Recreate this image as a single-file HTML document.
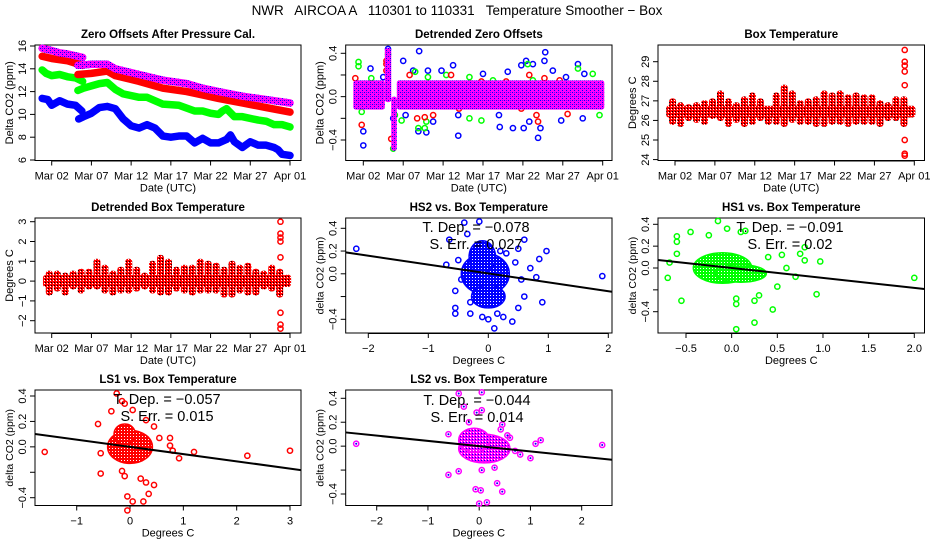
<!DOCTYPE html>
<html><head><meta charset="utf-8">
<style>
html,body{margin:0;padding:0;background:#fff;}
svg{display:block;font-family:"Liberation Sans",sans-serif;}
</style></head>
<body>
<svg id="fig" width="936" height="540" viewBox="0 0 936 540" xmlns="http://www.w3.org/2000/svg">
<defs>
<pattern id="patPurple" x="0" y="0" width="4" height="4" patternUnits="userSpaceOnUse"><rect x="0" y="0" width="4" height="4" fill="#ff00ff"/><rect x="0" y="0" width="1" height="1" fill="#0000ff"/><rect x="2" y="2" width="1" height="1" fill="#0000ff"/><rect x="2" y="0" width="1" height="1" fill="#6a00ff"/></pattern>
<pattern id="patRed" width="3" height="3" patternUnits="userSpaceOnUse"><rect width="3" height="3" fill="#ff0000"/><rect width="1" height="1" fill="#000"/><rect x="2" y="1" width="1" height="1" fill="#fff"/></pattern>
<pattern id="patBlue" width="3" height="3" patternUnits="userSpaceOnUse"><rect width="3" height="3" fill="#0000ff"/><rect x="1" y="1" width="1" height="1" fill="#fff"/></pattern>
<pattern id="patGreen" width="3" height="3" patternUnits="userSpaceOnUse"><rect width="3" height="3" fill="#00ff00"/><rect x="1" y="1" width="1" height="1" fill="#fff"/></pattern>
<pattern id="patRedBlob" width="3" height="3" patternUnits="userSpaceOnUse"><rect width="3" height="3" fill="#ff0000"/><rect x="1" y="1" width="1" height="1" fill="#fff"/></pattern>
<pattern id="patPurpleBlob" width="3" height="3" patternUnits="userSpaceOnUse"><rect width="3" height="3" fill="#ff00ff"/><rect x="1" y="1" width="1" height="1" fill="#0000ff"/><rect x="2" y="0" width="1" height="1" fill="#fff"/></pattern>
</defs>
<text x="457" y="15" font-size="13.5" text-anchor="middle" style="white-space:pre" xml:space="preserve">NWR   AIRCOA A   110301 to 110331   Temperature Smoother − Box</text>
</svg>
<script>
// ---------- data ----------
const dateTicks=[1,6,11,16,21,26,31];
const dateTickLabels=["Mar 02","Mar 07","Mar 12","Mar 17","Mar 22","Mar 27","Apr 01"];

// Panel 1: zero offsets
const purpleDays=[-0.2,1,2,3,4.9,null,4.3,6,8,9,12,15,18,20,22,25,28,31];
const purpleVals=[15.8,15.6,15.4,15.3,15.0,null,14.3,14.4,14.4,14.0,13.5,13.0,12.7,12.3,12.0,11.6,11.3,11.0];
const redDays=[-0.2,1,3,4.9,null,4.3,6,8,9,12,15,18,20,22,25,28,31];
const redVals=[15.1,14.9,14.7,14.3,null,13.5,13.6,13.8,13.4,12.9,12.3,12.0,11.7,11.4,11.0,10.6,10.2];
const greenDays=[-0.2,0.3,1,2,3,4,4.9,null,4.3,5,6,7,8,9,10,12,13,15,17,19,20,21,22,22.5,23,24,25,27,28,29,30,31];
const greenVals=[13.9,13.6,13.4,13.5,13.3,13.2,12.9,null,12.1,12.3,12.5,12.7,12.8,12.2,11.8,11.5,11.5,10.9,10.8,10.3,10.3,10.1,10.0,10.3,10.5,9.8,9.8,9.5,9.4,9.1,9.1,8.9];
const blueDays=[-0.2,0.5,1,2,3,4,4.8,null,4.4,5,6,7,8,9,10,11,12,13,14,15,16,17,18,19,20,21,22,23,23.5,24,25,26,27,28,29,29.5,30,31];
const blueVals=[11.4,11.3,10.8,11.2,10.9,10.8,10.3,null,9.6,9.8,10.1,10.6,10.7,10.5,9.6,9.0,8.8,9.1,8.8,8.1,8.0,8.1,8.1,7.5,7.9,7.5,7.5,7.8,8.2,7.6,7.1,7.6,7.3,7.3,7.1,6.9,6.5,6.4];

// Panel 2: detrended zero offsets (dense band blocks + outliers)
const bandStart=[-0.25,3.7,4.5,5.2];
const bandEnd=[3.7,4.5,5.2,31.2];
const bandHi=[0.15,0.45,0.0,0.15];
const bandLo=[-0.12,-0.05,-0.5,-0.12];
const dzBlueDays=[1,1,1.9,3.5,4.1,4.75,6,6.3,7.25,7.9,8,8.9,9.1,9.75,10.8,12.25,12.9,12.9,16,18,18.1,19.1,19.75,20.8,21.1,21.4,21.8,22.25,22.9,23.2,23.7,23.8,24.75,25.8,26.4,27.9,28.5,28.7,30.2];
const dzBlueVals=[-0.45,-0.32,0.26,0.18,0.44,-0.2,0.33,-0.17,0.24,-0.32,0.42,-0.33,0.24,-0.23,0.24,0.29,-0.36,-0.17,0.21,-0.17,-0.28,0.23,-0.29,0.29,-0.29,0.33,-0.23,0.3,-0.38,-0.29,0.33,0.41,0.24,-0.22,0.18,0.3,-0.2,0.21,-0.05];
const dzGreenDays=[0.4,0.4,0.8,2,4.1,4.75,4.95,5.8,7.5,7.9,8.7,8.9,9.1,11.4,14.3,14.3,15.8,17.25,21.6,22.25,23.7,27.9,29.75,30.6];
const dzGreenVals=[0.32,0.28,-0.14,0.17,0.39,-0.48,-0.17,-0.22,0.23,-0.29,-0.29,-0.23,0.18,0.2,-0.2,0.18,-0.22,0.15,0.3,0.15,0.12,0.26,0.21,-0.17];
const dzRedDays=[0,0.2,0.8,3.9,3.9,3.9,4.5,6.8,7.75,8.7,9.75,12,13,14.5,15.8,18.9,20.8,21.8,22.7,22.9,23.7,25.6,26.6,27.25,29.75];
const dzRedVals=[0.17,0.1,-0.26,0.33,0.3,0.24,-0.39,0.2,-0.2,-0.19,-0.17,0.2,-0.11,0.12,0.14,0.14,-0.11,0.2,-0.17,-0.23,0.17,0.15,-0.16,0.11,-0.02];

// Panel 3: box temperature daily max/min
const boxMax=[27.0,26.8,26.7,26.8,26.9,27.0,27.4,27.0,26.8,27.1,27.3,27.0,26.6,27.3,27.7,27.4,26.9,27.0,27.1,27.4,27.3,27.4,27.2,27.3,27.2,27.2,26.9,26.8,27.1,27.1,26.6];
const boxMin=[25.9,25.8,26.1,26.0,25.9,26.2,26.1,25.8,26.0,25.8,25.9,26.1,25.9,25.9,25.8,26.0,25.9,25.9,25.8,25.8,25.9,25.9,25.8,25.9,25.9,25.9,25.8,26.1,26.1,25.8,26.3];
const boxOutDay=29.8;
const boxOutVals=[29.6,29.0,28.8,28.5,27.8,25.0,24.3,24.2];

// Panel 4: detrended box temperature
const dtMax=[0.4,0.4,0.3,0.4,0.5,0.5,1.0,0.7,0.4,0.6,1.0,0.6,0.3,0.9,1.2,1.0,0.6,0.7,0.7,1.0,0.9,0.8,0.6,0.9,0.7,0.8,0.5,0.4,0.7,0.5,0.2];
const dtMin=[-0.6,-0.4,-0.6,-0.3,-0.5,-0.3,-0.3,-0.5,-0.6,-0.5,-0.5,-0.4,-0.3,-0.5,-0.6,-0.6,-0.4,-0.5,-0.6,-0.5,-0.5,-0.5,-0.7,-0.7,-0.5,-0.6,-0.6,-0.3,-0.4,-0.7,-0.1];
const dtOutVals=[3.0,2.4,2.2,2.0,1.2,-1.6,-2.2,-2.4];

// Scatter panels
const hs2X=[-2.2,1.9,-0.7,-0.65,-0.4,0.1,0.9,0.97,0.85,0.4,-0.55,-0.55,-0.3,0.5,0.25,0.0,0.6,0.5,0.7,0.6,-0.55,-0.3,0.2,-0.15,-0.35,0.45,0.3,-0.5,0.55,0.8,-0.45,0.15,-0.1];
const hs2Y=[0.22,-0.02,0.08,0.3,0.45,-0.48,-0.25,0.2,0.13,-0.42,-0.35,-0.3,-0.35,-0.3,-0.38,-0.4,0.3,0.22,0.05,-0.2,-0.15,-0.25,0.2,0.46,0.35,0.1,0.18,0.12,-0.05,-0.03,-0.05,-0.35,-0.38];
const hs2BlobX=[-0.05,-0.1,0.0], hs2BlobY=[0.0,0.15,-0.2], hs2BlobRx=[0.4,0.22,0.28], hs2BlobRy=[0.18,0.14,0.1];
const hs2Slope=-0.078, hs2Int=0.003;

const hs1X=[2.0,-0.7,-0.55,-0.6,-0.6,-0.45,-0.15,0.05,0.25,0.45,0.93,0.97,0.8,0.8,0.75,0.55,0.5,0.3,0.25,0.05,0.05,0.15,0.1,-0.05,-0.25,0.7,0.6,-0.6,-0.68,0.4];
const hs1Y=[-0.09,-0.09,-0.3,0.29,0.24,0.33,0.43,-0.56,-0.5,-0.38,-0.24,0.06,0.07,0.19,0.13,0.12,-0.17,-0.25,-0.3,-0.33,-0.28,0.34,0.33,0.36,0.3,-0.08,0.0,0.13,0.05,0.1];
const hs1BlobX=[-0.1,0.1], hs1BlobY=[0.0,-0.05], hs1BlobRx=[0.32,0.28], hs1BlobRy=[0.14,0.08];
const hs1Slope=-0.091, hs1Int=0.0;

const ls1X=[-1.6,3.0,2.2,1.2,0.92,-0.25,-0.15,-0.1,0.05,-0.35,0.3,0.45,-0.6,-0.55,-0.15,-0.05,-0.05,0.05,0.25,0.3,0.45,0.35,0.75,0.75,0.2,-0.1,0.8,0.55,-0.55];
const ls1Y=[-0.04,-0.03,-0.07,-0.04,-0.09,0.42,0.36,0.34,0.29,0.28,0.21,0.16,0.18,-0.21,-0.19,-0.39,-0.5,-0.43,-0.43,-0.28,-0.3,-0.37,0.01,0.07,-0.25,-0.23,-0.03,0.07,-0.05];
const ls1BlobX=[0.0,-0.1], ls1BlobY=[0.0,0.1], ls1BlobRx=[0.42,0.2], ls1BlobRy=[0.13,0.08];
const ls1Slope=-0.057, ls1Int=0.0;

const ls2X=[-2.4,2.4,1.2,1.1,1.0,0.8,0.7,-0.6,-0.6,-0.4,-0.07,0.03,0.0,0.15,0.35,0.45,-0.3,-0.4,0.05,0.05,-0.05,0.45,0.42,0.6,0.55,0.05,0.3,-0.2];
const ls2Y=[0.02,0.01,0.05,0.02,-0.1,-0.07,-0.04,0.1,-0.24,-0.21,-0.36,-0.37,-0.48,-0.47,-0.31,-0.38,0.33,0.44,0.45,0.3,0.28,0.18,0.14,0.07,0.09,-0.2,-0.18,0.2];
const ls2BlobX=[0.1,-0.1], ls2BlobY=[-0.02,0.05], ls2BlobRx=[0.5,0.3], ls2BlobRy=[0.12,0.1];
const ls2Slope=-0.044, ls2Int=0.0;

// ---------- drawing ----------
const NS="http://www.w3.org/2000/svg";
const svg=document.getElementById('fig');
function mk(tag,attrs,parent){const e=document.createElementNS(NS,tag);for(const k in attrs)e.setAttribute(k,attrs[k]);(parent||svg).appendChild(e);return e;}
function lin(v1,p1,v2,p2){const k=(p2-p1)/(v2-v1);return v=>p1+(v-v1)*k;}

const cols=[[35,301],[345.7,612],[658,924.5]];
const rows=[[45,160.5],[218,333],[390,505.5]];
let clipN=0;

function panel(c,r,name,title,sx,sy,xt,xl,yt,yl,xtitle,ytitle,ytitleSize){
  const [x0,x1]=cols[c],[y0,y1]=rows[r];
  const g=mk('g',{});
  
  
  const box=mk('rect',{x:x0,y:y0,width:x1-x0,height:y1-y0,fill:'none',stroke:'#000','stroke-width':1},g);
  
  
  const t=mk('text',{x:(x0+x1)/2,y:y0-7,'font-size':11.5,'font-weight':'bold','text-anchor':'middle'},g);
  t.textContent=title;
  
  
  xt.forEach((v,i)=>{
    const x=sx(v);
    const tk=mk('line',{x1:x,x2:x,y1:y1,y2:y1+5,stroke:'#000'},g);
    
    
    const lb=mk('text',{x:x,y:y1+19,'font-size':11,'text-anchor':'middle'},g);
    lb.textContent=xl[i];
    
    
  });
  const ax=mk('line',{x1:sx(xt[0]),x2:sx(xt[xt.length-1]),y1:y1+0.5,y2:y1+0.5,stroke:'#000'},g);
  
  
  yt.forEach((v,i)=>{
    const y=sy(v);
    const tk=mk('line',{x1:x0-5,x2:x0,y1:y,y2:y,stroke:'#000'},g);
    
    
    if(yl[i]!==''){
      const lb=mk('text',{x:0,y:0,'font-size':11,'text-anchor':'middle',transform:`translate(${x0-9},${y}) rotate(-90)`},g);
      lb.textContent=yl[i];
      
      
    }
  });
  const xtl=mk('text',{x:(x0+x1)/2,y:y1+31,'font-size':11,'text-anchor':'middle'},g);
  xtl.textContent=xtitle;
  
  
  const ytl=mk('text',{x:0,y:0,'font-size':ytitleSize,'text-anchor':'middle',transform:`translate(${x0-22},${(y0+y1)/2}) rotate(-90)`},g);
  ytl.textContent=ytitle;
  
  
  clipN++;
  const cp=mk('clipPath',{id:'clip'+clipN},g);
  mk('rect',{x:x0,y:y0,width:x1-x0,height:y1-y0},cp);
  const marks=mk('g',{},g);
  
  
  return {g:marks,clip:'url(#clip'+clipN+')',x0,x1,y0,y1};
}

function circ(parent,x,y,color,name){
  const c=mk('circle',{cx:x,cy:y,r:2.6,fill:'none',stroke:color,'stroke-width':1.5},parent);
  
  
  return c;
}

function series(p,sx,sy,days,vals,paint,name){
  let seg=[];
  const flush=()=>{ if(seg.length){const pl=mk('polyline',{points:seg.join(' '),fill:'none',stroke:paint,'stroke-width':7.5,'stroke-linecap':'round','stroke-linejoin':'round'},p.g);
    
    
    } seg=[]; };
  days.forEach((d,i)=>{ if(d===null||vals[i]===null){flush();} else seg.push(sx(d)+','+sy(vals[i])); });
  flush();
}

// Panel 1
{
  const sx=lin(1,51.7,31,290), sy=lin(16,46,6,160);
  const p=panel(0,0,'zero-offsets-panel','Zero Offsets After Pressure Cal.',sx,sy,dateTicks,dateTickLabels,[6,8,10,12,14,16],['6','8','10','12','14','16'],'Date (UTC)','Delta CO2 (ppm)',11);
  series(p,sx,sy,blueDays,blueVals,'#0000ff','series-blue');
  series(p,sx,sy,greenDays,greenVals,'#00ff00','series-green');
  series(p,sx,sy,redDays,redVals,'#ff0000','series-red');
  series(p,sx,sy,purpleDays,purpleVals,'url(#patPurple)','series-purple');
}
const m='\u2212';
// Panel 2
{
  const sx=lin(1,363.3,31,602.7), sy=lin(0.4,53.3,-0.4,140);
  const p=panel(1,0,'detrended-zero-offsets-panel','Detrended Zero Offsets',sx,sy,dateTicks,dateTickLabels,[-0.4,-0.2,0,0.2,0.4],[m+'0.4','','0.0','','0.4'],'Date (UTC)','Delta CO2 (ppm)',11);
  dzBlueDays.forEach((d,i)=>circ(p.g,sx(d),sy(dzBlueVals[i]),'#0000ff','point-blue'));
  dzGreenDays.forEach((d,i)=>circ(p.g,sx(d),sy(dzGreenVals[i]),'#00ff00','point-green'));
  dzRedDays.forEach((d,i)=>circ(p.g,sx(d),sy(dzRedVals[i]),'#ff0000','point-red'));
  bandStart.forEach((d,i)=>{
    const r=mk('rect',{x:sx(d),y:sy(bandHi[i]),width:sx(bandEnd[i])-sx(d),height:sy(bandLo[i])-sy(bandHi[i]),rx:2.5,fill:'url(#patPurple)'},p.g);
    
    
  });
}
function dailyBars(p,sx,sy,mx,mn,bandHiV,bandLoV){
  const b=mk('rect',{x:sx(-0.1),y:sy(bandHiV),width:sx(31.1)-sx(-0.1),height:sy(bandLoV)-sy(bandHiV),rx:2.5,fill:'url(#patRed)'},p.g);
  
  
  mx.forEach((v,k)=>{
    const x=sx(k+0.7);
    const r=mk('rect',{x:x-3.5,y:sy(v)-2.5,width:7,height:sy(mn[k])-sy(v)+5,rx:3,fill:'url(#patRed)'},p.g);
    
    
  });
}
// Panel 3
{
  const sx=lin(1,675,31,914.3), sy=lin(29,61.7,25,140);
  const p=panel(2,0,'box-temperature-panel','Box Temperature',sx,sy,dateTicks,dateTickLabels,[24,25,26,27,28,29],['24','25','26','27','28','29'],'Date (UTC)','Degrees C',11);
  dailyBars(p,sx,sy,boxMax,boxMin,26.75,26.15);
  boxOutVals.forEach(v=>{circ(p.g,sx(boxOutDay),sy(v),'#ff0000','outlier-point');});
}
// Panel 4
{
  const sx=lin(1,51.7,31,290), sy=lin(3,221.7,-2,320.7);
  const p=panel(0,1,'detrended-box-temperature-panel','Detrended Box Temperature',sx,sy,dateTicks,dateTickLabels,[-2,-1,0,1,2,3],[m+'2',m+'1','0','1','2','3'],'Date (UTC)','Degrees C',11);
  dailyBars(p,sx,sy,dtMax,dtMin,0.3,-0.3);
  dtOutVals.forEach(v=>{circ(p.g,sx(boxOutDay),sy(v),'#ff0000','outlier-point');});
}
function scatter(c,r,name,title,sx,sy,xt,xl,X,Y,bx,by,brx,bry,blobPat,color,slope,intercept,tdep,serr,annX,annY,isPurple){
  const yt=[-0.4,-0.2,0,0.2,0.4], yl=[m+'0.4','','0.0','0.2','0.4'];
  const p=panel(c,r,name,title,sx,sy,xt,xl,yt,yl,'Degrees C','delta CO2 (ppm)',10.5);
  bx.forEach((v,i)=>{
    const e=mk('ellipse',{cx:sx(v),cy:sy(by[i]),rx:Math.abs(sx(v+brx[i])-sx(v)),ry:Math.abs(sy(by[i]+bry[i])-sy(by[i])),fill:blobPat,stroke:color,'stroke-width':1.5},p.g);
    
    
  });
  X.forEach((v,i)=>{
    circ(p.g,sx(v),sy(Y[i]),color,'scatter-point');
    if(isPurple){const d=mk('circle',{cx:sx(v),cy:sy(Y[i]),r:1,fill:'#0000ff'},p.g);
      
      }
  });
  const xa=(p.x0-sx(0))/(sx(1)-sx(0)), xb=(p.x1-sx(0))/(sx(1)-sx(0));
  const ln=mk('line',{x1:sx(xa),y1:sy(intercept+slope*xa),x2:sx(xb),y2:sy(intercept+slope*xb),stroke:'#000','stroke-width':2,'clip-path':p.clip},p.g);
  
  
  const t1=mk('text',{x:annX,y:annY,'font-size':14.5,'text-anchor':'middle'},p.g);
  t1.textContent='T. Dep. =  '+tdep;
  
  
  const t2=mk('text',{x:annX,y:annY+17,'font-size':14.5,'text-anchor':'middle'},p.g);
  t2.textContent='S. Err. =  '+serr;
  
  
}
scatter(1,1,'hs2-scatter-panel','HS2 vs. Box Temperature',lin(-2,368.3,2,608.3),lin(0.4,228.3,-0.4,319.3),[-2,-1,0,1,2],[m+'2',m+'1','0','1','2'],hs2X,hs2Y,hs2BlobX,hs2BlobY,hs2BlobRx,hs2BlobRy,'url(#patBlue)','#0000ff',hs2Slope,hs2Int,m+'0.078','0.027',476,232,false);
scatter(2,1,'hs1-scatter-panel','HS1 vs. Box Temperature',lin(-0.5,686,2,914.3),lin(0.4,224.3,-0.4,311.7),[-0.5,0,0.5,1,1.5,2],[m+'0.5','0.0','0.5','1.0','1.5','2.0'],hs1X,hs1Y,hs1BlobX,hs1BlobY,hs1BlobRx,hs1BlobRy,'url(#patGreen)','#00ff00',hs1Slope,hs1Int,m+'0.091','0.02',790,232,false);
scatter(0,2,'ls1-scatter-panel','LS1 vs. Box Temperature',lin(-1,76.7,3,290),lin(0.4,396,-0.4,497.7),[-1,0,1,2,3],[m+'1','0','1','2','3'],ls1X,ls1Y,ls1BlobX,ls1BlobY,ls1BlobRx,ls1BlobRy,'url(#patRedBlob)','#ff0000',ls1Slope,ls1Int,m+'0.057','0.015',167,404,false);
scatter(1,2,'ls2-scatter-panel','LS2 vs. Box Temperature',lin(-2,376.7,2,581.7),lin(0.4,398.3,-0.4,494),[-2,-1,0,1,2],[m+'2',m+'1','0','1','2'],ls2X,ls2Y,ls2BlobX,ls2BlobY,ls2BlobRx,ls2BlobRy,'url(#patPurpleBlob)','#ff00ff',ls2Slope,ls2Int,m+'0.044','0.014',477,405,true);
</script>
</body></html>
